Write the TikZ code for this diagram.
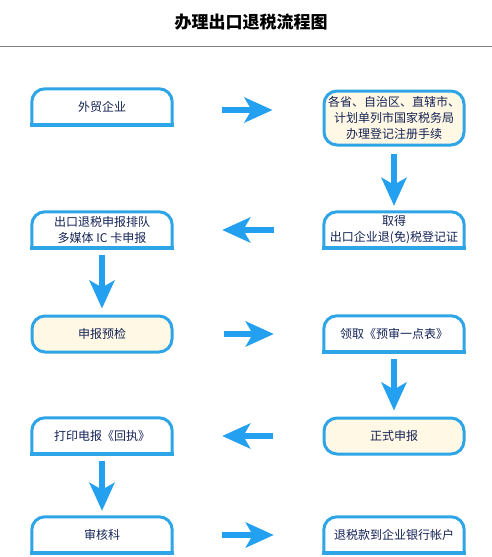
\documentclass[tikz,border=0pt]{standalone}
\usepackage{fontspec}
\newfontfamily\cjk{Noto Sans CJK SC}
\usetikzlibrary{arrows.meta}
\definecolor{boxblue}{RGB}{45,165,230}
\definecolor{arrowblue}{RGB}{35,160,240}
\definecolor{cream}{RGB}{255,248,228}
\definecolor{textblue}{RGB}{20,35,85}

\begin{document}
\begin{tikzpicture}[x=1pt,y=-1pt,
    every node/.style={font=\cjk\fontsize{12}{16}\selectfont,text=textblue,align=center,inner sep=2pt},
    tabbox/.style={shape=rectangle,fill=white,minimum width=140pt,minimum height=36pt},
    roundbox/.style={shape=rectangle,draw=boxblue,line width=3pt,fill=cream,rounded corners=13pt,minimum width=140pt,minimum height=36pt},
    tabframe/.style={draw=boxblue,line width=3pt,rounded corners=13pt},
    tabbase/.style={draw=boxblue,line width=4pt},
    flow/.style={color=arrowblue,line width=6pt,-{Stealth[length=28pt,width=25pt,inset=7pt]}},
    flowacross/.style={flow,shorten <=50pt,shorten >=50pt},
    flowdown/.style={flow,shorten <=7pt,shorten >=6pt}]
\useasboundingbox (0,0) rectangle (492,557);
\node[font=\cjk\bfseries\fontsize{17}{20}\selectfont,text=black] (title) at (251,22) {办理出口退税流程图};
\draw[gray,line width=1pt] (0,46) -- (492,46);

\node[tabbox] (s1) at (102,107) {外贸企业};
\node[roundbox,minimum height=54pt] (s2) at (394,118) {各省、自治区、直辖市、\\计划单列市国家税务局\\办理登记注册手续};
\node[tabbox] (s3) at (394,230) {取得\\出口企业退(免)税登记证};
\node[tabbox] (s4) at (102,230) {出口退税申报排队\\多媒体 IC 卡申报};
\node[roundbox] (s5) at (102,334) {申报预检};
\node[tabbox] (s6) at (394,334) {领取《预审一点表》};
\node[roundbox] (s7) at (394,436) {正式申报};
\node[tabbox] (s8) at (102,436) {打印电报《回执》};
\node[tabbox] (s9) at (102,535) {审核科};
\node[tabbox] (s10) at (394,535) {退税款到企业银行帐户};

\foreach \s in {s1,s3,s4,s6,s8,s9,s10}{
    \draw[tabframe] (\s.south west) |- (\s.north) -| (\s.south east);
    \draw[tabbase] ([xshift=-1.5pt]\s.south west) -- ([xshift=1.5pt]\s.south east);
}

\path[flowacross] ([yshift=-3pt]s1.east) edge ([yshift=-3pt]s1.east -| s2.west);
\path[flowdown] (s2) edge (s3);
\path[flowacross] (s3) edge (s4);
\path[flowdown] (s4) edge (s5);
\path[flowacross] (s5) edge (s6);
\path[flowdown] (s6) edge (s7);
\path[flowacross] (s7) edge (s8);
\path[flowdown] (s8) edge (s9);
\path[flowacross] (s9) edge (s10);
%\path[flowacross] (s1) edge (s2);

\end{tikzpicture}
\end{document}
